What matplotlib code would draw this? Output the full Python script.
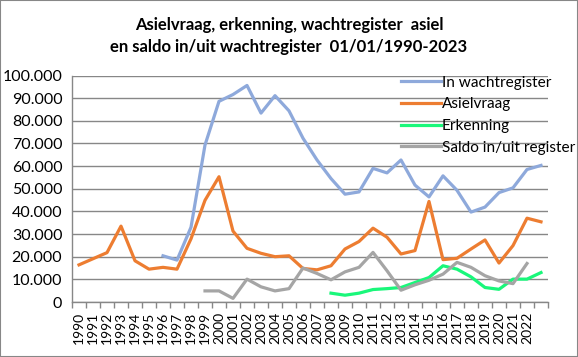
import matplotlib
matplotlib.use("Agg")
import matplotlib.pyplot as plt
import numpy as np
from matplotlib.ticker import FuncFormatter, FixedLocator

years = [str(y) for y in range(1990, 2023)] + [""]

wachtregister = [None, None, None, None, None, None, 20400, 18500, 33000, 69300,
                 88600, 91600, 95600, 83400, 91100, 84400, 72300, 62700, 54500, 47600,
                 48600, 59000, 57000, 62700, 51600, 46400, 55700, 49300, 39700, 41900,
                 48300, 50400, 58500, 60300]
asielvraag = [16400, 19100, 21800, 33500, 18200, 14500, 15300, 14500, 27900, 44900,
              55300, 31300, 23700, 21500, 20000, 20400, 14800, 14200, 16000, 23400,
              26700, 32600, 28600, 21200, 22700, 44400, 18700, 19300, 23400, 27400,
              17200, 24900, 37000, 35400]
erkenning = [None] * 18 + [3900, 3000, 3900, 5500, 5900, 6400, 8600, 10800,
                           16000, 14500, 11100, 6400, 5600, 10100, 10100, 13000]
saldo = [None] * 9 + [4900, 4900, 1600, 10100, 6700, 4900, 5900, 15000, 12600,
                      9800, 13300, 15300, 21900, 13800, 5200, 7600, 9600, 12300,
                      17500, 15300, 11600, 9300, 8100, 17000, None]

series_names = ["In wachtregister", "Asielvraag", "Erkenning", "Saldo in/uit register"]
colors = ["#8EA9DB", "#ED7D31", "#19F77A", "#A5A5A5"]

def arr(v):
    return np.array([np.nan if x is None else x for x in v], dtype=float)

plt.rcParams['font.family'] = ['Lato', 'DejaVu Sans']

fig = plt.figure(figsize=(5.78, 3.57), dpi=100)
ax = fig.add_axes([72/578, 55/357, 476/578, 226.5/357])

x = np.arange(len(years))
for data, name, c in zip([wachtregister, asielvraag, erkenning, saldo], series_names, colors):
    ax.plot(x, arr(data), color=c, lw=2.3, label=name, solid_joinstyle='round')

ax.set_xlim(-0.5, len(years) - 0.5)
ax.set_ylim(0, 100000)
ax.set_yticks(np.arange(0, 100001, 10000))
ax.yaxis.set_major_formatter(FuncFormatter(lambda v, p: f"{int(v):,}".replace(",", ".")))
ax.grid(axis='y', color='#878787', lw=1)
ax.set_axisbelow(True)

ax.set_xticks(x)
ax.set_xticklabels(years, rotation=90, fontsize=10, va='top', ha='center')
ax.xaxis.set_minor_locator(FixedLocator(np.arange(-0.5, len(years), 1)))
ax.tick_params(axis='x', which='major', length=0, pad=7)
ax.tick_params(axis='x', which='minor', length=4, color='#878787', width=1)
ax.tick_params(axis='y', length=0, labelsize=11.5, pad=7)

for s in ['top', 'right']:
    ax.spines[s].set_visible(False)
for s in ['left', 'bottom']:
    ax.spines[s].set_color('#878787')
    ax.spines[s].set_linewidth(1)

leg = ax.legend(loc='upper left', bbox_to_anchor=(329/476, 1.0), frameon=False,
                fontsize=11.1, handlelength=2.6, handletextpad=0.05, labelspacing=0.5,
                borderaxespad=0, borderpad=0)

fig.text(0.5, 1 - 25/357, "Asielvraag, erkenning, wachtregister  asiel", ha='center', va='center',
         fontsize=12, fontweight='bold')
fig.text(0.5, 1 - 47/357, "en saldo in/uit wachtregister  01/01/1990-2023", ha='center', va='center',
         fontsize=12, fontweight='bold')

fig.patches.append(plt.Rectangle((0, 0), 1, 1, transform=fig.transFigure, fill=False,
                                 edgecolor='#878787', lw=1.5))

fig.savefig("out.png", dpi=100)
